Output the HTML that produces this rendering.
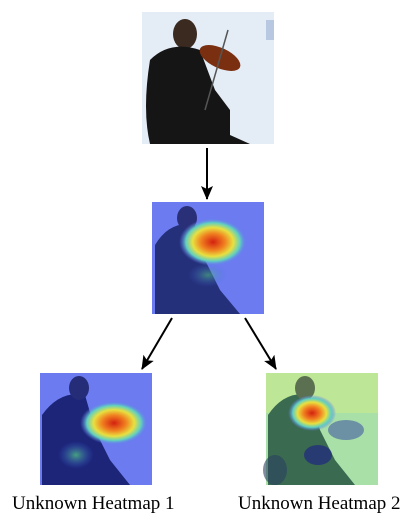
<!DOCTYPE html>
<html><head><meta charset="utf-8"><style>
html,body{margin:0;padding:0;background:#fff;width:417px;height:526px;overflow:hidden}
svg{display:block}
text{font-family:"Liberation Serif",serif;font-size:19px;fill:#000}
</style></head><body>
<svg width="417" height="526" viewBox="0 0 417 526">
<defs>
<marker id="ah" markerWidth="14" markerHeight="14" refX="13" refY="7" orient="auto" markerUnits="userSpaceOnUse" viewBox="0 0 14 14">
<path d="M0,1 L14,7 L0,13 L3,7 z" fill="#000"/></marker>
<radialGradient id="hot1" cx="0.5" cy="0.5" r="0.5">
<stop offset="0" stop-color="#d42010"/><stop offset="0.35" stop-color="#f08020"/><stop offset="0.6" stop-color="#e8e040"/><stop offset="0.8" stop-color="#60d0c0"/><stop offset="1" stop-color="#6070f0" stop-opacity="0"/></radialGradient>
<radialGradient id="green" cx="0.5" cy="0.5" r="0.5">
<stop offset="0" stop-color="#50c080"/><stop offset="1" stop-color="#4060e0" stop-opacity="0"/></radialGradient>
</defs>

<g>
<rect x="142" y="12" width="132" height="132" fill="#e4ecf6"/>
<rect x="266" y="20" width="8" height="20" fill="#b8c8e0"/>
<ellipse cx="185" cy="34" rx="12" ry="15" fill="#3a2a20"/>
<path d="M150,60 Q170,40 200,50 L215,90 L230,110 L230,135 L250,144 L150,144 Q142,110 150,60z" fill="#151515"/>
<ellipse cx="220" cy="58" rx="22" ry="10" fill="#7a3010" transform="rotate(25 220 58)"/>
<line x1="228" y1="30" x2="205" y2="110" stroke="#555" stroke-width="1.5"/>
</g>

<g>
<rect x="152" y="202" width="112" height="112" fill="#6c7cf0"/>
<path d="M155,245 Q170,220 195,225 L205,260 L220,290 L240,314 L155,314z" fill="#25307a"/>
<ellipse cx="187" cy="218" rx="10" ry="12" fill="#2a3078"/>
<ellipse cx="213" cy="242" rx="34" ry="24" fill="url(#hot1)"/>
<ellipse cx="208" cy="275" rx="20" ry="12" fill="url(#green)" opacity="0.6"/>
</g>

<g>
<rect x="40" y="373" width="112" height="112" fill="#6c7cf0"/>
<path d="M42,415 Q60,390 85,395 L95,430 L110,460 L130,485 L42,485z" fill="#1c2578"/>
<ellipse cx="79" cy="388" rx="10" ry="12" fill="#252c78"/>
<ellipse cx="114" cy="423" rx="34" ry="22" fill="url(#hot1)"/>
<ellipse cx="76" cy="455" rx="18" ry="14" fill="url(#green)" opacity="0.8"/>
</g>

<g>
<rect x="266" y="373" width="112" height="112" fill="#a8e0a8"/>
<rect x="266" y="373" width="112" height="40" fill="#c8e890" opacity="0.7"/>
<path d="M268,415 Q285,390 310,395 L320,430 L335,460 L355,485 L268,485z" fill="#3a6a50"/>
<ellipse cx="305" cy="388" rx="10" ry="12" fill="#5a7050"/>
<ellipse cx="275" cy="470" rx="12" ry="15" fill="#2a4060" opacity="0.6"/>
<ellipse cx="318" cy="455" rx="14" ry="10" fill="#202880" opacity="0.7"/>
<ellipse cx="312" cy="413" rx="24" ry="18" fill="url(#hot1)"/>
<ellipse cx="346" cy="430" rx="18" ry="10" fill="#3040a0" opacity="0.5"/>
</g>

<line x1="207" y1="148" x2="207" y2="199" stroke="#000" stroke-width="2" marker-end="url(#ah)"/>
<line x1="172" y1="318" x2="142" y2="369" stroke="#000" stroke-width="2" marker-end="url(#ah)"/>
<line x1="245" y1="318" x2="276" y2="369" stroke="#000" stroke-width="2" marker-end="url(#ah)"/>

<text x="12" y="509">Unknown Heatmap 1</text>
<text x="238" y="509">Unknown Heatmap 2</text>
</svg>
</body></html>
